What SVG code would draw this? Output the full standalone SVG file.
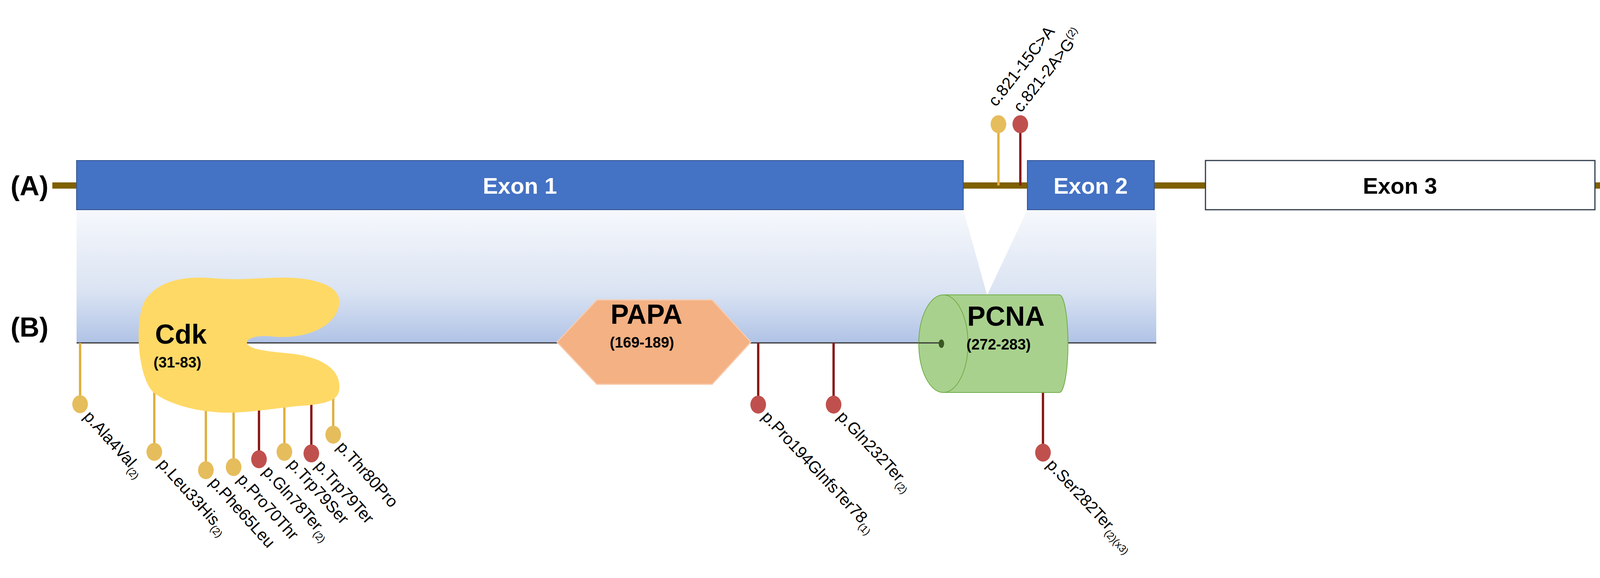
<svg xmlns="http://www.w3.org/2000/svg" width="4211" height="1480" viewBox="0 0 4211 1480">
<defs>
<linearGradient id="band" x1="0" y1="0" x2="0" y2="1">
<stop offset="0" stop-color="#f6f8fc"/><stop offset="0.6" stop-color="#dbe4f3"/><stop offset="1" stop-color="#b0c3e6"/>
</linearGradient>
<style>
text{font-family:"Liberation Sans",Arial,sans-serif}
.lbl{font-size:70px;font-weight:bold;fill:#000}
.ex{font-size:58px;font-weight:bold;text-anchor:middle}
.dom{font-size:70px;font-weight:bold}
.rng{font-size:38px;font-weight:bold}
.mut{font-size:42px;fill:#000}
.sup{font-size:26px}
.intron{stroke:#7f6000;stroke-width:16}
.ly{stroke:#e0b040;stroke-width:6}
.lr{stroke:#8b1a1a;stroke-width:6}
.cy{fill:#e6bd5c}
.cr{fill:#c0504d}
</style>
</defs>
<rect width="4211" height="1480" fill="#fff"/>
<g id="labels">
<text class="lbl" x="27" y="500">(A)</text>
<text class="lbl" x="27" y="862">(B)</text>
</g>
<g id="introns">
<line class="intron" x1="134" y1="475" x2="200" y2="475"/>
<line class="intron" x1="2460" y1="475" x2="2636" y2="475"/>
<line class="intron" x1="2955" y1="475" x2="3090" y2="475"/>
<line class="intron" x1="4080" y1="475" x2="4177" y2="475"/>
</g>
<g id="band">
<rect x="196" y="537" width="2764" height="341" fill="url(#band)"/>
<polygon points="2466,537 2630,537 2527,756" fill="#fff"/>
<line x1="196" y1="878" x2="2960" y2="878" stroke="#333" stroke-width="3"/>
</g>
<g id="exon1"><rect x="196" y="411" width="2270" height="126" fill="#4472c4" stroke="#2f528f" stroke-width="2"/><text class="ex" x="1331" y="496" fill="#fff">Exon 1</text></g>
<g id="exon2"><rect x="2630" y="411" width="325" height="126" fill="#4472c4" stroke="#2f528f" stroke-width="2"/><text class="ex" x="2792" y="496" fill="#fff">Exon 2</text></g>
<g id="exon3"><rect x="3086" y="411" width="997" height="126" fill="#fff" stroke="#2f3b4a" stroke-width="3"/><text class="ex" x="3584" y="496" fill="#000">Exon 3</text></g>
<g id="connectors">
<line class="ly" x1="205" y1="878" x2="205" y2="1035"/>
<line class="ly" x1="395" y1="1000" x2="395" y2="1157"/>
<line class="ly" x1="527" y1="1000" x2="527" y2="1204"/>
<line class="ly" x1="598" y1="1000" x2="598" y2="1196"/>
<line class="lr" x1="663" y1="1000" x2="663" y2="1176"/>
<line class="ly" x1="728" y1="1000" x2="728" y2="1157"/>
<line class="lr" x1="797" y1="1000" x2="797" y2="1161"/>
<line class="ly" x1="853" y1="1000" x2="853" y2="1113"/>
<line class="lr" x1="1941" y1="878" x2="1941" y2="1036"/>
<line class="lr" x1="2134" y1="878" x2="2134" y2="1036"/>
<line class="lr" x1="2670" y1="990" x2="2670" y2="1159"/>
<line class="ly" x1="2556" y1="475" x2="2556" y2="318"/>
<line class="lr" x1="2612" y1="475" x2="2612" y2="318"/>
</g>
<g id="cdk">
<path d="M400,1010 C350,980 340,800 378,760 C410,720 470,706 540,712 C640,722 720,700 800,718 C862,732 880,760 862,800 C838,850 760,868 700,862 C650,856 625,870 634,882 C645,896 690,900 750,906 C830,916 876,950 868,1000 C864,1030 820,1036 760,1040 C700,1046 620,1060 560,1056 C480,1050 430,1030 400,1010 Z" fill="#ffd966"/>
<text class="dom" x="397" y="880">Cdk</text>
<text class="rng" x="393" y="941">(31-83)</text>
</g>
<g id="papa">
<polygon points="1426,876 1528,768 1823,768 1922,876 1823,984 1528,984" fill="#f4b183" stroke="#f8cbad" stroke-width="3"/>
<text class="dom" x="1563" y="829">PAPA</text>
<text class="rng" x="1561" y="890">(169-189)</text>
</g>
<g id="pcna">
<path d="M2415,755 L2712,755 A22,125 0 0 1 2712,1005 L2415,1005 A63,125 0 0 1 2415,755 Z" fill="#a9d18e" stroke="#70ad47" stroke-width="2"/>
<path d="M2415,755 A63,125 0 0 1 2415,1005" fill="none" stroke="#70ad47" stroke-width="2"/>
<line x1="2352" y1="878" x2="2410" y2="878" stroke="#333" stroke-width="3"/>
<ellipse cx="2410" cy="880" rx="7" ry="11" fill="#385723"/>
<text class="dom" x="2476" y="834">PCNA</text>
<text class="rng" x="2474" y="895">(272-283)</text>
</g>
<g id="heads">
<ellipse class="cy" cx="205" cy="1035" rx="20" ry="23"/>
<ellipse class="cy" cx="395" cy="1157" rx="20" ry="23"/>
<ellipse class="cy" cx="527" cy="1204" rx="20" ry="23"/>
<ellipse class="cy" cx="598" cy="1196" rx="20" ry="23"/>
<ellipse class="cr" cx="663" cy="1176" rx="20" ry="23"/>
<ellipse class="cy" cx="728" cy="1157" rx="20" ry="23"/>
<ellipse class="cr" cx="797" cy="1161" rx="20" ry="23"/>
<ellipse class="cy" cx="853" cy="1113" rx="20" ry="23"/>
<ellipse class="cr" cx="1941" cy="1036" rx="20" ry="23"/>
<ellipse class="cr" cx="2134" cy="1036" rx="20" ry="23"/>
<ellipse class="cr" cx="2670" cy="1159" rx="20" ry="23"/>
<ellipse class="cy" cx="2556" cy="318" rx="20" ry="23"/>
<ellipse class="cr" cx="2612" cy="318" rx="20" ry="23"/>
</g>
<g id="mutlabels">
<text class="mut" transform="translate(212,1068) rotate(48)">p.Ala4Val<tspan class="sup" dy="10">(2)</tspan></text>
<text class="mut" transform="translate(402,1190) rotate(48)">p.Leu33His<tspan class="sup" dy="10">(2)</tspan></text>
<text class="mut" transform="translate(534,1237) rotate(48)">p.Phe65Leu</text>
<text class="mut" transform="translate(605,1229) rotate(48)">p.Pro70Thr</text>
<text class="mut" transform="translate(670,1209) rotate(48)">p.Gln78Ter<tspan class="sup" dy="10">(2)</tspan></text>
<text class="mut" transform="translate(735,1190) rotate(48)">p.Trp79Ser</text>
<text class="mut" transform="translate(804,1194) rotate(48)">p.Trp79Ter</text>
<text class="mut" transform="translate(860,1146) rotate(48)">p.Thr80Pro</text>
<text class="mut" transform="translate(1948,1069) rotate(47)">p.Pro194GlnfsTer78<tspan class="sup" dy="10">(1)</tspan></text>
<text class="mut" transform="translate(2141,1069) rotate(47)">p.Gln232Ter<tspan class="sup" dy="10">(2)</tspan></text>
<text class="mut" transform="translate(2677,1192) rotate(47)">p.Ser282Ter<tspan class="sup" dy="10">(2)(x3)</tspan></text>
<text class="mut" transform="translate(2550,275) rotate(-52)">c.821-15C&gt;A</text>
<text class="mut" transform="translate(2614,290) rotate(-52)">c.821-2A&gt;G<tspan class="sup" dy="-16">(2)</tspan></text>
</g>
</svg>
